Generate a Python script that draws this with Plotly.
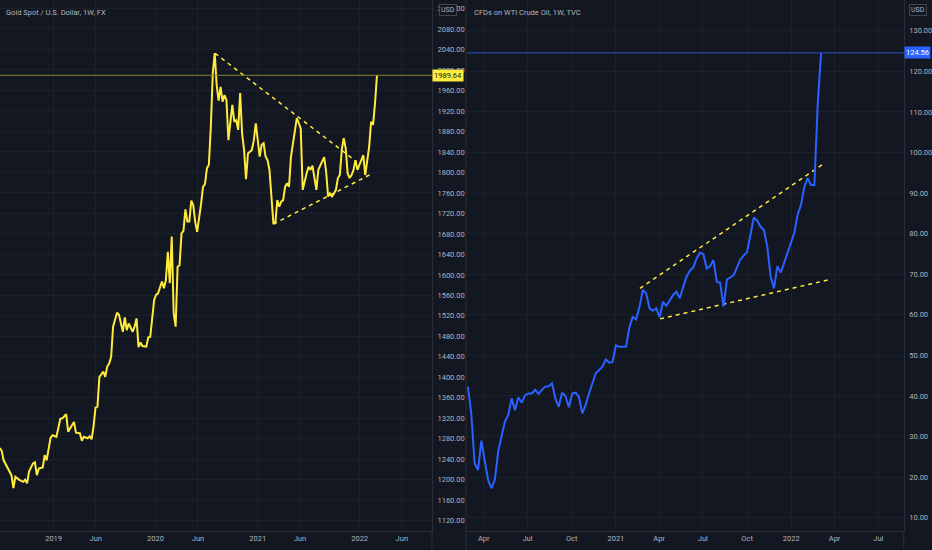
import pandas as pd
import plotly.graph_objects as go

# weekly closes (week number counted from the start date)
gold_start = "2018-06-29"
gold_week = [-1, 0, 1, 4, 5, 6, 7, 9, 11, 12, 13, 14, 16, 17, 18, 19, 21, 22, 23, 25,
             26, 28, 30, 31, 33, 34, 35, 37, 38, 40, 41, 42, 44, 45, 46, 47, 48, 49, 50, 52,
             53, 54, 55, 56, 57, 59, 60, 62, 63, 64, 65, 67, 68, 69, 70, 71, 72, 74, 75, 76,
             78, 79, 80, 82, 83, 84, 85, 86, 87, 88, 89, 90, 91, 92, 93, 94, 95, 96, 97, 98,
             99, 100, 102, 103, 104, 105, 106, 107, 108, 109, 110, 111, 112, 113, 114, 115, 116, 117, 118, 119,
             120, 121, 122, 123, 124, 125, 126, 128, 129, 130, 131, 132, 133, 134, 135, 136, 137, 138, 139, 140,
             141, 142, 143, 144, 145, 146, 147, 148, 149, 151, 152, 153, 154, 155, 156, 157, 158, 159, 160, 161,
             162, 164, 165, 166, 167, 168, 169, 170, 171, 172, 173, 174, 175, 176, 177, 178, 179, 180, 181, 182,
             183, 184, 185, 186, 187, 188, 189, 190, 191, 192]
gold_close = [1262, 1257, 1238, 1216, 1209, 1184, 1206, 1200, 1196, 1200, 1193, 1216, 1232, 1234, 1209, 1222, 1224, 1248, 1238, 1282,
              1287, 1284, 1319, 1320, 1328, 1294, 1300, 1313, 1292, 1291, 1276, 1284, 1281, 1285, 1279, 1304, 1341, 1343, 1401, 1411,
              1401, 1421, 1427, 1440, 1499, 1526, 1522, 1489, 1517, 1492, 1505, 1489, 1499, 1515, 1459, 1468, 1461, 1460, 1478, 1479,
              1551, 1561, 1564, 1587, 1574, 1590, 1645, 1584, 1675, 1525, 1499, 1616, 1619, 1681, 1686, 1728, 1704, 1704, 1745, 1736,
              1704, 1684, 1738, 1772, 1777, 1808, 1815, 1889, 1994, 2033, 1970, 1940, 1967, 1938, 1951, 1941, 1863, 1896, 1932, 1899,
              1902, 1883, 1955, 1876, 1844, 1787, 1837, 1844, 1863, 1896, 1863, 1831, 1854, 1857, 1831, 1824, 1805, 1759, 1701, 1701,
              1746, 1733, 1743, 1746, 1772, 1779, 1772, 1831, 1857, 1906, 1896, 1886, 1766, 1785, 1798, 1811, 1805, 1813, 1785, 1766,
              1805, 1824, 1830, 1801, 1753, 1759, 1753, 1759, 1766, 1789, 1795, 1844, 1867, 1847, 1798, 1789, 1795, 1805, 1824, 1805,
              1815, 1821, 1834, 1795, 1824, 1850, 1899, 1893, 1935, 1989.64]

oil_start = "2020-02-21"
oil_week = [1, 2, 3, 4, 5, 6, 7, 8, 9, 10, 11, 12, 13, 14, 15, 16, 17, 18, 19, 20,
            21, 22, 23, 24, 25, 26, 27, 28, 29, 30, 31, 32, 33, 34, 35, 36, 37, 38, 39, 40,
            41, 42, 43, 44, 45, 46, 48, 49, 50, 51, 52, 53, 54, 55, 56, 57, 58, 59, 60, 61,
            62, 63, 64, 65, 66, 67, 68, 69, 70, 71, 72, 73, 74, 75, 76, 77, 78, 79, 80, 81,
            82, 84, 85, 86, 87, 88, 89, 90, 91, 92, 93, 94, 95, 96, 98, 99, 100, 101, 102, 103,
            104, 105, 106]
oil_close = [42.3, 35.7, 23.4, 21.7, 29.0, 24.2, 19.3, 17.2, 19.3, 26.3, 30.0, 33.7, 35.3, 39.4, 36.5, 39.7, 38.3, 40.2, 40.6, 40.6,
             41.5, 40.5, 41.5, 42.3, 42.4, 43.1, 39.4, 37.3, 40.8, 40.0, 37.2, 40.6, 40.8, 39.8, 35.7, 37.8, 40.6, 43.1, 45.6, 46.4,
             47.2, 49.0, 48.2, 48.4, 52.5, 52.1, 52.1, 56.9, 59.5, 58.9, 61.9, 66.1, 65.3, 61.6, 61.0, 61.6, 59.4, 63.2, 62.2, 63.5,
             64.9, 65.7, 64.1, 66.9, 69.4, 70.9, 71.7, 73.9, 75.3, 75.0, 71.4, 72.0, 73.5, 68.1, 67.9, 62.0, 68.7, 69.2, 69.8, 71.7,
             73.7, 75.5, 80.1, 84.0, 83.2, 81.7, 80.9, 76.8, 69.4, 66.5, 72.0, 70.4, 72.8, 75.1, 80.1, 84.6, 87.0, 91.5, 93.7, 92.0,
             92.0, 112.0, 124.56]

# drawn trend lines (start, end)
gold_upper_dates = ["2020-08-01", "2021-12-21"]
gold_upper_vals = [2032.6, 1820.9]
gold_lower_dates = ["2021-02-26", "2022-02-12"]
gold_lower_vals = [1699.3, 1796.9]
oil_upper_dates = ["2021-02-20", "2022-03-10"]
oil_upper_vals = [66.5, 97.3]
oil_lower_dates = ["2021-04-03", "2022-03-19"]
oil_lower_vals = [59.0, 68.6]

gold_tick_dates = ["2019-01-01", "2019-06-01", "2020-01-01", "2020-06-01",
                   "2021-01-01", "2021-06-01", "2022-01-01", "2022-06-01"]
gold_tick_text = ["2019", "Jun", "2020", "Jun", "2021", "Jun", "2022", "Jun"]
oil_tick_dates = ["2020-04-01", "2020-07-01", "2020-10-01", "2021-01-01", "2021-04-01",
                  "2021-07-01", "2021-10-01", "2022-01-01", "2022-04-01", "2022-07-01"]
oil_tick_text = ["Apr", "Jul", "Oct", "2021", "Apr", "Jul", "Oct", "2022", "Apr", "Jul"]

BG = "#131722"
GRID = "#1c202b"
BORDER = "#2a2e39"
TXT = "#b2b5be"
GOLD = "#ffeb3b"
BLUE = "#2962ff"
FONT = "Roboto, sans-serif"

gold_dates = pd.Timestamp(gold_start) + pd.to_timedelta([7 * w for w in gold_week], unit="D")
oil_dates = pd.Timestamp(oil_start) + pd.to_timedelta([7 * w for w in oil_week], unit="D")

fig = go.Figure()

dash = dict(color=GOLD, width=1.5, dash="4px,4px")
fig.add_trace(go.Scatter(x=gold_upper_dates, y=gold_upper_vals, mode="lines", line=dash,
                         xaxis="x", yaxis="y"))
fig.add_trace(go.Scatter(x=gold_lower_dates, y=gold_lower_vals, mode="lines", line=dash,
                         xaxis="x", yaxis="y"))
fig.add_trace(go.Scatter(x=gold_dates, y=gold_close, mode="lines",
                         line=dict(color=GOLD, width=2), xaxis="x", yaxis="y"))

fig.add_trace(go.Scatter(x=oil_upper_dates, y=oil_upper_vals, mode="lines", line=dash,
                         xaxis="x2", yaxis="y2"))
fig.add_trace(go.Scatter(x=oil_lower_dates, y=oil_lower_vals, mode="lines", line=dash,
                         xaxis="x2", yaxis="y2"))
fig.add_trace(go.Scatter(x=oil_dates, y=oil_close, mode="lines",
                         line=dict(color=BLUE, width=2), xaxis="x2", yaxis="y2"))

xcommon = dict(type="date", showgrid=True, gridcolor=GRID, gridwidth=1, zeroline=False,
               showline=True, linecolor=BORDER, linewidth=1, tickmode="array",
               tickfont=dict(family=FONT, size=7.5, color=TXT), ticks="", fixedrange=True)
ycommon = dict(side="right", showgrid=True, gridcolor=GRID, gridwidth=1, zeroline=False,
               showline=True, linecolor=BORDER, linewidth=1, tickformat=".2f",
               tickfont=dict(family=FONT, size=7.5, color=TXT), ticks="",
               ticklabelstandoff=3, fixedrange=True)

gold_last = gold_close[-1]
oil_last = oil_close[-1]

fig.update_layout(
    width=932, height=550,
    margin=dict(l=0, r=0, t=0, b=0),
    paper_bgcolor=BG, plot_bgcolor=BG,
    showlegend=False,
    xaxis=dict(xcommon, domain=[0, 0.4635], range=["2018-06-23", "2022-09-17"],
               tickvals=gold_tick_dates, ticktext=gold_tick_text, anchor="y"),
    yaxis=dict(ycommon, domain=[0.0345, 1], range=[1100, 2136.6], dtick=40, tick0=0,
               anchor="x"),
    xaxis2=dict(xcommon, domain=[0.501, 0.9697], range=["2020-02-26", "2022-08-23"],
                tickvals=oil_tick_dates, ticktext=oil_tick_text, anchor="y2"),
    yaxis2=dict(ycommon, domain=[0.0345, 1], range=[6.7, 137.6], dtick=10, tick0=0,
                anchor="x2"),
    shapes=[
        dict(type="line", xref="x domain", yref="y", x0=0, x1=1, y0=gold_last, y1=gold_last,
             line=dict(color="#8a8430", width=1)),
        dict(type="line", xref="x2 domain", yref="y2", x0=0, x1=1, y0=oil_last, y1=oil_last,
             line=dict(color="#2a4fc0", width=1)),
        dict(type="line", xref="paper", yref="paper", x0=0.5, x1=0.5, y0=0, y1=1,
             line=dict(color=BORDER, width=1)),
        dict(type="line", xref="paper", yref="paper", x0=0.4635, x1=0.4635, y0=0, y1=0.0345,
             line=dict(color=BORDER, width=1)),
        dict(type="line", xref="paper", yref="paper", x0=0.9697, x1=0.9697, y0=0, y1=0.0345,
             line=dict(color=BORDER, width=1)),
    ],
    annotations=[
        dict(text="Gold Spot / U.S. Dollar, 1W, FX", xref="paper", yref="paper",
             x=0.004, y=0.99, xanchor="left", yanchor="top", showarrow=False,
             font=dict(family=FONT, size=7.5, color=TXT)),
        dict(text="CFDs on WTI Crude Oil, 1W, TVC", xref="paper", yref="paper",
             x=0.506, y=0.99, xanchor="left", yanchor="top", showarrow=False,
             font=dict(family=FONT, size=7.5, color=TXT)),
        dict(text="USD", xref="paper", yref="paper", x=0.481, y=0.992, xanchor="center",
             yanchor="top", showarrow=False, bgcolor=BG, bordercolor="#434651",
             borderwidth=1, borderpad=1, font=dict(family=FONT, size=7, color=TXT)),
        dict(text="USD", xref="paper", yref="paper", x=0.985, y=0.992, xanchor="center",
             yanchor="top", showarrow=False, bgcolor=BG, bordercolor="#434651",
             borderwidth=1, borderpad=1, font=dict(family=FONT, size=7, color=TXT)),
        dict(text=f"{gold_last:.2f}", xref="paper", yref="y", x=0.4635, y=gold_last,
             xanchor="left", yanchor="middle", showarrow=False, bgcolor=GOLD, borderpad=1,
             font=dict(family=FONT, size=7.5, color="#131722")),
        dict(text=f"{oil_last:.2f}", xref="paper", yref="y2", x=0.9697, y=oil_last,
             xanchor="left", yanchor="middle", showarrow=False, bgcolor=BLUE, borderpad=1,
             font=dict(family=FONT, size=7.5, color="#ffffff")),
    ],
)

fig.write_html("out.html", config={"displayModeBar": False},
               post_script="document.body.style.margin='0';")
